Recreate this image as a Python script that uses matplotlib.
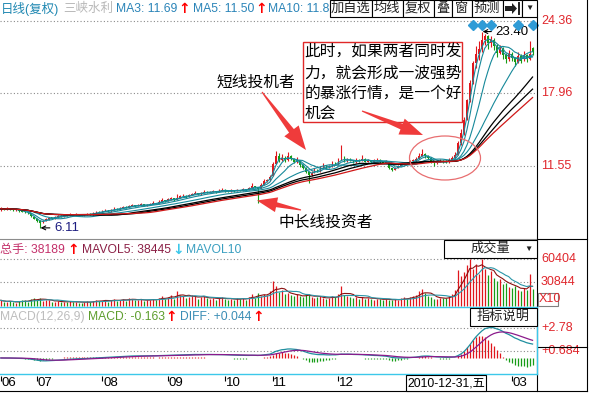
import numpy as np
import pandas as pd
import matplotlib
matplotlib.use('Agg')
import matplotlib.pyplot as plt
from matplotlib.patches import Polygon, Rectangle, Ellipse
from matplotlib.lines import Line2D

plt.rcParams['font.family'] = ['Liberation Sans', 'Noto Sans CJK SC', 'DejaVu Sans']

# ---- trading calendar (SSE), 2010-06-10 .. 2011-03-10 ----
holidays = ['2010-06-14', '2010-06-15', '2010-06-16', '2010-09-22', '2010-09-23', '2010-09-24',
            '2010-10-01', '2010-10-04', '2010-10-05', '2010-10-06', '2010-10-07',
            '2011-01-03', '2011-02-02', '2011-02-03', '2011-02-04', '2011-02-07', '2011-02-08']
days = pd.bdate_range('2010-06-10', '2011-03-10')
days = days[~days.isin(pd.to_datetime(holidays))]

# ---- daily bars ----
opens = [7.70, 7.82, 7.70, 7.84, 7.75, 7.66, 7.72, 7.60, 7.55, 7.46,
         7.38, 7.10, 6.90, 6.72, 6.60, 6.72, 6.88, 7.04, 6.94, 7.06,
         7.16, 7.10, 7.24, 7.18, 7.30, 7.24, 7.33, 7.27, 7.20, 7.26,
         7.36, 7.30, 7.40, 7.52, 7.48, 7.60, 7.66, 7.58, 7.72, 7.80,
         7.74, 7.88, 7.96, 7.90, 8.05, 8.12, 8.02, 8.10, 8.18, 8.08,
         8.15, 8.22, 8.30, 8.26, 8.42, 8.55, 8.48, 8.62, 8.70, 8.58,
         8.76, 8.88, 8.95, 8.84, 9.02, 9.10, 9.18, 9.05, 9.22, 9.30,
         9.20, 9.28, 9.35, 9.26, 9.40, 9.48, 9.36, 9.32, 9.42, 9.38,
         9.45, 9.40, 9.52, 9.46, 9.60, 9.78, 9.68, 9.55, 9.92, 10.25,
         10.30, 10.70, 11.75, 12.40, 12.10, 12.30, 12.05, 12.45, 12.20, 11.90,
         12.00, 11.62, 11.40, 11.05, 10.80, 10.95, 11.25, 11.10, 11.45, 11.62,
         11.38, 11.55, 11.80, 11.70, 12.10, 12.35, 11.95, 12.15, 12.05, 11.90,
         12.10, 12.02, 12.20, 11.95, 12.08, 11.92, 12.00, 12.10, 11.90, 11.85,
         11.95, 11.35, 11.25, 11.40, 11.60, 11.72, 11.80, 11.78, 11.96, 12.05,
         12.20, 12.45, 12.62, 12.40, 12.28, 11.95, 11.80, 11.92, 12.02, 11.95,
         11.88, 12.10, 12.25, 12.55, 13.60, 14.50, 15.70, 17.40, 19.00, 20.60,
         21.40, 21.90, 22.70, 23.00, 22.40, 22.65, 22.10, 21.55, 21.90, 21.30,
         20.95, 21.45, 21.05, 20.70, 21.25, 21.00, 21.30, 21.00, 21.95]
highs = [7.92, 7.88, 7.95, 7.90, 7.80, 7.82, 7.76, 7.66, 7.62, 7.52,
         7.42, 7.18, 6.96, 6.80, 6.78, 6.95, 7.08, 7.08, 7.14, 7.22,
         7.20, 7.30, 7.28, 7.38, 7.34, 7.40, 7.36, 7.30, 7.32, 7.45,
         7.40, 7.48, 7.62, 7.56, 7.68, 7.78, 7.70, 7.80, 7.92, 7.84,
         7.96, 8.08, 8.00, 8.15, 8.25, 8.16, 8.18, 8.30, 8.20, 8.24,
         8.32, 8.45, 8.34, 8.55, 8.70, 8.60, 8.75, 8.85, 8.74, 9.05,
         9.02, 9.08, 8.98, 9.12, 9.22, 9.32, 9.20, 9.30, 9.45, 9.34,
         9.36, 9.48, 9.38, 9.50, 9.62, 9.52, 9.40, 9.50, 9.46, 9.55,
         9.48, 9.62, 9.56, 9.72, 10.05, 9.82, 9.75, 10.05, 10.40, 10.45,
         10.75, 11.90, 12.85, 12.70, 12.60, 12.45, 12.80, 12.55, 12.30, 12.35,
         12.05, 11.70, 11.48, 11.15, 11.10, 11.35, 11.30, 11.55, 11.78, 11.66,
         11.65, 12.00, 11.88, 12.30, 13.40, 12.40, 12.30, 12.25, 12.10, 12.25,
         12.15, 12.55, 12.25, 12.20, 12.12, 12.20, 12.30, 12.14, 11.95, 12.05,
         11.98, 11.42, 11.48, 11.68, 11.80, 11.85, 11.90, 12.05, 12.15, 12.35,
         12.70, 13.10, 12.70, 12.50, 12.32, 12.00, 12.05, 12.15, 12.10, 12.06,
         12.30, 12.40, 12.80, 13.75, 14.80, 15.90, 17.50, 19.10, 20.80, 22.10,
         22.60, 23.40, 23.20, 23.10, 23.00, 22.80, 22.30, 22.20, 22.00, 21.50,
         21.80, 21.60, 21.20, 21.60, 21.40, 21.70, 21.45, 22.60, 22.00]
lows = [7.62, 7.66, 7.68, 7.70, 7.60, 7.62, 7.55, 7.48, 7.40, 7.32,
        7.05, 6.85, 6.62, 6.11, 6.52, 6.68, 6.82, 6.90, 6.92, 7.02,
        7.04, 7.08, 7.12, 7.15, 7.20, 7.22, 7.22, 7.15, 7.16, 7.24,
        7.26, 7.28, 7.38, 7.42, 7.46, 7.56, 7.52, 7.55, 7.70, 7.68,
        7.72, 7.85, 7.84, 7.88, 8.02, 7.96, 8.00, 8.08, 8.02, 8.05,
        8.12, 8.20, 8.18, 8.24, 8.40, 8.40, 8.46, 8.60, 8.52, 8.56,
        8.72, 8.84, 8.78, 8.82, 8.98, 9.06, 8.98, 9.02, 9.18, 9.14,
        9.16, 9.25, 9.20, 9.24, 9.36, 9.30, 9.24, 9.28, 9.30, 9.34,
        9.34, 9.38, 9.40, 9.44, 9.58, 9.62, 8.30, 9.50, 9.88, 10.15,
        10.25, 10.65, 11.70, 11.95, 12.00, 11.90, 12.00, 12.05, 11.80, 11.85,
        11.50, 11.30, 10.95, 10.10, 10.70, 10.90, 11.00, 11.05, 11.40, 11.30,
        11.34, 11.50, 11.62, 11.68, 12.05, 11.90, 11.90, 11.98, 11.82, 11.86,
        11.95, 12.00, 11.88, 11.90, 11.85, 11.88, 11.96, 11.85, 11.78, 11.80,
        11.30, 11.15, 11.20, 11.36, 11.55, 11.62, 11.70, 11.75, 11.92, 12.00,
        12.15, 12.40, 12.30, 12.15, 11.85, 11.60, 11.75, 11.88, 11.86, 11.80,
        11.85, 12.05, 12.20, 12.50, 13.40, 14.30, 15.60, 17.20, 18.80, 20.20,
        20.90, 21.60, 22.20, 21.90, 22.00, 21.80, 21.20, 21.40, 21.00, 20.60,
        20.80, 20.80, 20.40, 20.60, 20.60, 20.80, 20.75, 20.90, 21.35]
closes = [7.80, 7.72, 7.85, 7.76, 7.68, 7.74, 7.62, 7.55, 7.48, 7.40,
          7.12, 6.92, 6.75, 6.58, 6.70, 6.88, 7.02, 6.95, 7.08, 7.15,
          7.10, 7.22, 7.18, 7.30, 7.25, 7.32, 7.28, 7.20, 7.26, 7.35,
          7.31, 7.40, 7.52, 7.48, 7.60, 7.66, 7.58, 7.72, 7.80, 7.74,
          7.88, 7.95, 7.90, 8.05, 8.12, 8.02, 8.10, 8.18, 8.08, 8.15,
          8.22, 8.30, 8.26, 8.42, 8.55, 8.48, 8.62, 8.70, 8.58, 8.76,
          8.88, 8.95, 8.84, 9.02, 9.10, 9.18, 9.05, 9.22, 9.30, 9.20,
          9.28, 9.35, 9.26, 9.40, 9.48, 9.36, 9.32, 9.42, 9.38, 9.45,
          9.40, 9.52, 9.46, 9.60, 9.78, 9.70, 9.55, 9.92, 10.25, 10.30,
          10.62, 11.70, 12.40, 12.10, 12.30, 12.05, 12.45, 12.20, 11.90, 12.05,
          11.62, 11.40, 11.05, 10.80, 10.95, 11.25, 11.10, 11.45, 11.62, 11.38,
          11.55, 11.80, 11.70, 12.10, 12.35, 11.95, 12.15, 12.05, 11.90, 12.10,
          12.02, 12.20, 11.95, 12.08, 11.92, 12.00, 12.10, 11.90, 11.85, 11.95,
          11.35, 11.25, 11.40, 11.60, 11.72, 11.75, 11.78, 11.96, 12.05, 12.20,
          12.45, 12.62, 12.40, 12.28, 11.95, 11.80, 11.92, 12.02, 11.95, 11.88,
          12.10, 12.25, 12.50, 13.60, 14.50, 15.60, 17.40, 18.90, 20.60, 21.40,
          21.90, 22.70, 23.05, 22.40, 22.65, 22.10, 21.55, 21.90, 21.30, 20.95,
          21.45, 21.05, 20.70, 21.25, 20.85, 21.30, 21.00, 21.45, 21.60]
volumes = [7000, 5200, 4800, 6100, 4500, 3900, 5600, 6800, 7500, 5200,
           8800, 9500, 7200, 10500, 6200, 7800, 6900, 4800, 5300, 6000,
           4600, 5100, 4300, 5800, 4900, 5200, 4100, 3800, 4700, 5500,
           4900, 6200, 7400, 5800, 6600, 7900, 5400, 7100, 8300, 6200,
           7700, 8900, 6400, 9800, 8600, 7100, 6800, 8200, 6500, 7300,
           7900, 9200, 6800, 10200, 12500, 8400, 11800, 13900, 9100, 19000,
           14200, 12800, 9600, 11500, 13600, 12200, 8900, 10800, 12400, 9300,
           8600, 9900, 7800, 10400, 11200, 8100, 7400, 8800, 7900, 9500,
           8300, 10100, 7600, 11800, 14900, 10200, 16800, 12300, 15600, 14100,
           18500, 31500, 24800, 17200, 19600, 14800, 16900, 13200, 11900, 14500,
           12600, 10800, 13900, 15200, 11700, 9800, 10600, 12100, 9400, 8700,
           10300, 12800, 11600, 15300, 25200, 13800, 12100, 11300, 9600, 10800,
           8900, 11700, 9200, 10400, 8600, 7800, 9100, 8200, 7500, 8800,
           7200, 6900, 8100, 7600, 9400, 10800, 8700, 11200, 12600, 13400,
           19500, 21400, 15800, 12300, 11600, 9200, 8500, 10300, 10100, 9800,
           11900, 14800, 19600, 45500, 38200, 43600, 51800, 59200, 47500, 53400,
           41200, 60400, 46800, 38900, 44200, 35800, 31600, 33900, 27800, 29400,
           24600, 22800, 25900, 20400, 18600, 23100, 19800, 41200, 21600]

ma_teal = [3, 5, 10, 20]
ma_black = [30, 35]
ma_red = [40]
event_idx = [158, 161, 164, 173, 178]   # blue diamonds on top
price_grid = [24.36, 17.96, 11.55]
vol_grid = [60404, 30844]
macd_grid = [2.78, 0.684]

RED = '#e0161c'
GREEN = '#169c16'
TEAL = '#17899a'
CYAN = '#3cc8ea'
LABEL_RED = '#e0262c'

W, H = 589, 393
X0, X1 = -0.285, 179.49

o = np.array(opens); h = np.array(highs); l = np.array(lows); c = np.array(closes)
v = np.array(volumes, float)
idx = np.arange(len(c))
up = c >= o
bar_col = np.where(up, RED, GREEN)

fig = plt.figure(figsize=(W / 100, H / 100), dpi=100)
fig.patch.set_facecolor('white')


def P(x, y):
    return x / W, 1 - y / H


def add_ax(x0, y0, x1, y1, ylim):
    ax = fig.add_axes([x0 / W, 1 - y1 / H, (x1 - x0) / W, (y1 - y0) / H])
    ax.set_axis_off()
    ax.set_xlim(X0, X1)
    ax.set_ylim(*ylim)
    return ax


def fline(x0, y0, x1, y1, color='black', lw=0.8, z=4):
    fig.add_artist(Line2D([x0 / W, x1 / W], [1 - y0 / H, 1 - y1 / H],
                          transform=fig.transFigure, color=color, lw=lw, zorder=z))


def ftext(x, y, s, **kw):
    kw.setdefault('va', 'center')
    kw.setdefault('ha', 'left')
    fig.text(x / W, 1 - y / H, s, **kw)


def arrow_glyph(x, y, s, color):
    ftext(x, y, s, fontsize=10, color=color, fontweight='bold', family='DejaVu Sans')


def fbox(x0, y0, x1, y1, ec='black', lw=0.8, z=5):
    fig.add_artist(Rectangle(P(x0, y1), (x1 - x0) / W, (y1 - y0) / H, transform=fig.transFigure,
                             fc='white', ec=ec, lw=lw, zorder=z))


def wedge(tail, tip, head_len, head_w, shaft_w, color='#ef3b3b'):
    t = np.array(tail, float); p = np.array(tip, float)
    d = p - t
    u = d / np.hypot(*d)
    n = np.array([-u[1], u[0]])
    b = p - u * head_len
    pts = [t + n * 0.6, b + n * shaft_w / 2, b + n * head_w / 2, p,
           b - n * head_w / 2, b - n * shaft_w / 2, t - n * 0.6]
    fig.add_artist(Polygon([P(*q) for q in pts], closed=True, transform=fig.transFigure,
                           fc=color, ec='none', zorder=6))


# ================= main price panel =================
ax = add_ax(0, 0, 537, 239, (5.13, 26.18))
for g in price_grid:
    ax.axhline(g, color='#8a8a8a', ls=(0, (1, 2)), lw=0.8, zorder=1)
    ax.text(1.0075, g, f'{g:.2f}', transform=ax.get_yaxis_transform(), color=LABEL_RED,
            fontsize=9, va='center', ha='left', clip_on=False)

ax.vlines(idx, l, h, colors=bar_col, lw=0.8, zorder=2)
body = np.maximum(np.abs(c - o), 0.03)
ax.bar(idx, body, bottom=np.minimum(o, c), width=0.55, color=bar_col, lw=0, zorder=2)

cs = pd.Series(c)
for n_ in ma_teal:
    ax.plot(idx, cs.rolling(n_, min_periods=1).mean(), color=TEAL, lw=0.8, zorder=3)
for n_ in ma_black:
    ax.plot(idx, cs.rolling(n_, min_periods=1).mean(), color='black', lw=0.9, zorder=3)
for n_ in ma_red:
    ax.plot(idx, cs.rolling(n_, min_periods=1).mean(), color='#d01818', lw=0.9, zorder=3)

ax.plot(event_idx, [24.0] * len(event_idx), ls='none', marker='D', ms=5,
        color='#2f9bd6', clip_on=False, zorder=4)

i_hi = int(np.argmax(h)); i_lo = int(np.argmin(l))
ax.annotate(f'{h[i_hi]:.2f}', xy=(i_hi + 0.3, h[i_hi]), xytext=(i_hi + 4.6, h[i_hi]),
            va='center', ha='left', fontsize=9.5, color='black',
            arrowprops=dict(arrowstyle='->', lw=0.8, color='black', shrinkA=1, shrinkB=0,
                            mutation_scale=7))
ax.annotate(f'{l[i_lo]:.2f}', xy=(i_lo + 0.3, l[i_lo]), xytext=(i_lo + 4.8, l[i_lo]),
            va='center', ha='left', fontsize=9.5, color='#1c1c80',
            arrowprops=dict(arrowstyle='->', lw=0.8, color='black', shrinkA=1, shrinkB=0,
                            mutation_scale=7))

# ================= volume panel =================
axv = add_ax(0, 239, 537, 307, (-1600, 85400))
for g in vol_grid:
    axv.axhline(g, color='#8a8a8a', ls=(0, (1, 2)), lw=0.8, zorder=1)
    axv.text(1.0075, g, f'{g}', transform=axv.get_yaxis_transform(), color=LABEL_RED,
             fontsize=9, va='center', ha='left', clip_on=False)
axv.vlines(idx, 0, v, colors=bar_col, lw=0.9, zorder=2)
vs = pd.Series(v)
axv.plot(idx, vs.rolling(5, min_periods=1).mean(), color='#8b1010', lw=0.8, zorder=3)
axv.plot(idx, vs.rolling(10, min_periods=1).mean(), color='#2a96a8', lw=0.8, zorder=3)

# ================= MACD panel =================
axm = add_ax(0, 307, 537, 374, (-1.50, 4.77))
for g in macd_grid:
    axm.axhline(g, color='#8a8a8a', ls=(0, (1, 2)), lw=0.8, zorder=1)
    axm.text(1.0075, g, f'+{g:g}', transform=axm.get_yaxis_transform(), color=LABEL_RED,
             fontsize=9, va='center', ha='left', clip_on=False)
ema12 = cs.ewm(span=12, adjust=False).mean()
ema26 = cs.ewm(span=26, adjust=False).mean()
diff = ema12 - ema26
dea = diff.ewm(span=9, adjust=False).mean()
hist = 2 * (diff - dea)
axm.vlines(idx, 0, hist, colors=np.where(hist >= 0, RED, GREEN), lw=0.9, zorder=2)
axm.plot(idx, diff, color='#1f8f9f', lw=0.9, zorder=3)
axm.plot(idx, dea, color='#8b1a8b', lw=0.9, zorder=3)

# ================= date strip =================
axt = add_ax(0, 374, 537, 391, (1, 0))
first = [0] + [i for i in range(1, len(days)) if days[i].month != days[i - 1].month]
for i in first:
    xp = 0.85 + 2.987 * i
    if 398 < xp < 486:      # hidden under the cursor date box
        continue
    axt.vlines(i, 0.1, 0.4, color='black', lw=0.8)
    axt.text(i + 0.2, 0.55, f'{days[i].month:02d}', fontsize=9.5, va='center', ha='left')
fbox(406, 374.5, 486, 391, z=5)
ftext(407.5, 383, '2010-12-31,五', fontsize=8.8, zorder=6)

# ================= frame lines =================
fline(537, 17, 537, 391)
fline(587, 0, 587, 391)
fline(0, 391, 587, 391)
fline(0, 239, 537, 239, color='#8c8c8c')
fline(537, 239, 587, 239)
fline(537, 346.7, 587, 346.7)
fline(0, 307, 537, 307, color=CYAN, lw=1.0)
fline(0, 374, 537, 374, color=CYAN, lw=1.0)
fline(537, 307, 537, 374, color=CYAN, lw=1.0, z=5)

# ================= header texts =================
hf = 8.7
ftext(1, 9, '日线(复权)', fontsize=9, color='#2088b2')
ftext(63, 9, '三峡水利', fontsize=9, color='#b8b8b8')
ftext(116, 9, 'MA3: 11.69', fontsize=hf, color='#2a84b8')
arrow_glyph(178, 9, '↑', 'red')
ftext(193, 9, 'MA5: 11.50', fontsize=hf, color='#2a84b8')
arrow_glyph(255, 9, '↑', 'red')
ftext(268, 9, 'MA10: 11.8', fontsize=hf, color='#2a84b8')

buttons = [(330, 371.7, '加自选'), (371.7, 402.7, '均线'), (402.7, 434, '复权'), (434, 452.3, '叠'),
           (452.3, 471.7, '窗'), (471.7, 502.7, '预测'), (502.7, 522.3, ''), (522.3, 536.7, '▼')]
for x0, x1, s in buttons:
    fbox(x0, 0, x1, 17)
    if s:
        ftext((x0 + x1) / 2, 8.5, s, fontsize=9.5 if s != '▼' else 6, ha='center', zorder=6,
              color='#202020')
# "go to end" icon
icon = [(505, 6), (512, 6), (512, 3), (517, 8.5), (512, 14), (512, 11), (505, 11)]
fig.add_artist(Polygon([P(*q) for q in icon], closed=True, transform=fig.transFigure,
                       fc='#202020', ec='none', zorder=6))
fline(518.5, 3, 518.5, 14, color='#202020', lw=1.4, z=6)

ftext(0, 250, '总手: 38189', fontsize=hf, color='#c4306a')
arrow_glyph(67, 250, '↑', 'red')
ftext(82, 250, 'MAVOL5: 38445', fontsize=hf, color='#8a1f45')
arrow_glyph(172, 250, '↓', CYAN)
ftext(186, 250, 'MAVOL10', fontsize=hf, color='#3a9fc0')
fbox(444, 240, 537, 258)
ftext(490, 249, '成交量', fontsize=9.5, ha='center', zorder=6, color='#202020')
ftext(528, 249, '▼', fontsize=6, ha='center', zorder=6, color='#202020')
fbox(537.5, 293, 558, 306, ec='#808080')
ftext(539, 299.5, 'X10', fontsize=9, color=LABEL_RED, zorder=6)

ftext(0, 317, 'MACD(12,26,9)', fontsize=hf, color='#bdbdbd')
ftext(88, 317, 'MACD: -0.163', fontsize=hf, color='#5e9e2e')
arrow_glyph(165, 317, '↑', 'red')
ftext(180, 317, 'DIFF: +0.044', fontsize=hf, color='#3a8db5')
arrow_glyph(252, 317, '↑', 'red')
fbox(470, 308, 537, 326)
ftext(503.5, 317, '指标说明', fontsize=9.5, ha='center', zorder=6, color='#202020')

# ================= annotations =================
cjk = ['Noto Sans CJK SC', 'DejaVu Sans']
ftext(216, 82, '短线投机者', fontsize=11.3, family=cjk, zorder=6)
ftext(279, 222, '中长线投资者', fontsize=11.3, family=cjk, zorder=6)
fbox(302.7, 42.3, 461.7, 122.3, ec='#e02828', lw=1.0, z=5)
for k, s in enumerate(['此时，如果两者同时发', '力，就会形成一波强势', '的暴涨行情，是一个好', '机会']):
    ftext(304.5, 52.5 + 20.2 * k, s, fontsize=11.3, family=cjk, zorder=6)

wedge((262, 92), (306, 150), 24, 18, 6)
wedge((301, 210), (257, 200.5), 20, 15, 5)
wedge((362, 111), (423, 135), 23, 17, 6)
fig.add_artist(Ellipse(P(445, 158), 71 / W, 44 / H, transform=fig.transFigure,
                       fc='none', ec='#e86e70', lw=0.9, zorder=6))

fig.savefig('out.png', dpi=100)
